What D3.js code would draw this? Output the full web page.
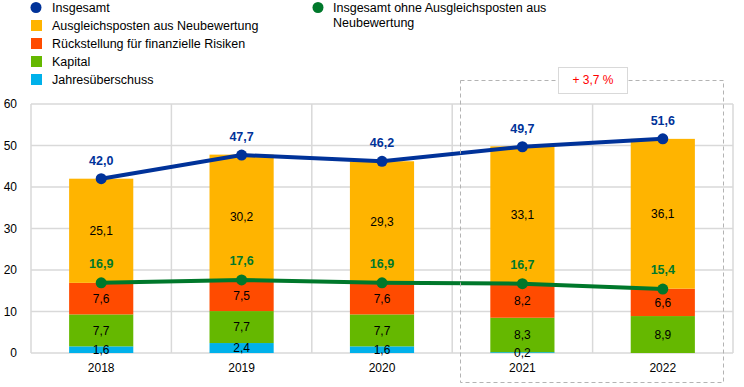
<!DOCTYPE html>
<html>
<head>
<meta charset="utf-8">
<script src="https://cdn.jsdelivr.net/npm/d3@7"></script>
<style>
  body { margin: 0; background: #fff; }
  svg { font-family: "Liberation Sans", Arial, sans-serif; }
</style>
</head>
<body>
<div id="app"></div>
<script>
// data
const years = ["2018", "2019", "2020", "2021", "2022"];
const jahresueberschuss = [1.6, 2.4, 1.6, 0.2, 0];
const kapital = [7.7, 7.7, 7.7, 8.3, 8.9];
const rueckstellung = [7.6, 7.5, 7.6, 8.2, 6.6];
const ausgleichsposten = [25.1, 30.2, 29.3, 33.1, 36.1];
const insgesamt = [42.0, 47.7, 46.2, 49.7, 51.6];
const ohneAusgleich = [16.9, 17.6, 16.9, 16.7, 15.4];
const yTicks = [0, 10, 20, 30, 40, 50, 60];

const seriesNames = ["Jahresüberschuss", "Kapital", "Rückstellung für finanzielle Risiken", "Ausgleichsposten aus Neubewertung"];
const seriesValues = [jahresueberschuss, kapital, rueckstellung, ausgleichsposten];
const colors = ["#00b1ea", "#65b800", "#ff4b00", "#ffb400"];
const blue = "#003299";
const green = "#00782b";

const fmt = v => v.toFixed(1).replace(".", ",");

// sizing
const width = 744, height = 387;
const margin = {left: 31, right: 11, top: 104, bottom: 34};

const svg = d3.select("#app").append("svg")
    .attr("width", width)
    .attr("height", height);

const x = d3.scaleBand()
    .domain(years)
    .range([margin.left, width - margin.right])
    .paddingInner(0)
    .paddingOuter(0);

const y = d3.scaleLinear()
    .domain([0, 60])
    .range([height - margin.bottom, margin.top]);

const barW = x.bandwidth() * 0.457;

// grid
const grid = svg.append("g");
grid.selectAll("line.h")
    .data(yTicks)
    .enter().append("line")
        .attr("x1", margin.left)
        .attr("x2", width - margin.right)
        .attr("y1", d => y(d))
        .attr("y2", d => y(d))
        .attr("stroke", "#d9d9d9")
        .attr("stroke-width", 1.5);
const bounds = years.map(d => x(d)).concat([x(years[years.length - 1]) + x.bandwidth()]);
grid.selectAll("line.v")
    .data(bounds)
    .enter().append("line")
        .attr("x1", d => d)
        .attr("x2", d => d)
        .attr("y1", y(60))
        .attr("y2", y(0))
        .attr("stroke", "#d9d9d9")
        .attr("stroke-width", 1.5);

// y axis labels
svg.append("g")
    .selectAll("text")
    .data(yTicks)
    .enter().append("text")
        .attr("x", 17)
        .attr("y", d => y(d))
        .attr("dy", "0.35em")
        .attr("text-anchor", "end")
        .style("font-size", "12px")
        .text(d => d);

// x axis labels
svg.append("g")
    .selectAll("text")
    .data(years)
    .enter().append("text")
        .attr("x", d => x(d) + x.bandwidth() / 2)
        .attr("y", 372)
        .attr("text-anchor", "middle")
        .style("font-size", "12px")
        .text(d => d);

// stacked bars
const stackRows = years.map((yr, i) => {
    const row = {year: yr};
    seriesNames.forEach((s, j) => row[s] = seriesValues[j][i]);
    return row;
});
const stacked = d3.stack().keys(seriesNames)(stackRows);

stacked.forEach((layer, j) => {
    const g = svg.append("g");
    g.selectAll("rect")
        .data(layer.filter(d => d[1] - d[0] > 0))
        .enter().append("rect")
            .attr("x", d => x(d.data.year) + x.bandwidth() / 2 - barW / 2)
            .attr("y", d => y(d[1]))
            .attr("width", barW)
            .attr("height", d => y(d[0]) - y(d[1]))
            .attr("fill", colors[j]);
});
stacked.forEach((layer, j) => {
    svg.append("g").selectAll("text")
        .data(layer.filter(d => d[1] - d[0] > 0))
        .enter().append("text")
            .attr("x", d => x(d.data.year) + x.bandwidth() / 2)
            .attr("y", d => (y(d[0]) + y(d[1])) / 2)
            .attr("dy", "0.35em")
            .attr("text-anchor", "middle")
            .style("font-size", "12px")
            .text(d => fmt(d[1] - d[0]));
});

// lines
function drawLine(values, color, labelOffset) {
    const pts = years.map((yr, i) => [x(yr) + x.bandwidth() / 2, y(values[i]), values[i]]);
    svg.append("path")
        .attr("d", d3.line()(pts.map(p => [p[0], p[1]])))
        .attr("fill", "none")
        .attr("stroke", color)
        .attr("stroke-width", 4);
    svg.append("g").selectAll("circle")
        .data(pts)
        .enter().append("circle")
            .attr("cx", d => d[0])
            .attr("cy", d => d[1])
            .attr("r", 5.5)
            .attr("fill", color);
    svg.append("g").selectAll("text")
        .data(pts)
        .enter().append("text")
            .attr("x", d => d[0])
            .attr("y", d => d[1] - labelOffset)
            .attr("text-anchor", "middle")
            .style("font-size", "12.5px")
            .style("font-weight", "bold")
            .attr("fill", color)
            .text(d => fmt(d[2]));
}
drawLine(ohneAusgleich, green, 15);
drawLine(insgesamt, blue, 14);

// highlight box
svg.append("rect")
    .attr("x", 460.5)
    .attr("y", 80.5)
    .attr("width", 263)
    .attr("height", 302)
    .attr("fill", "none")
    .attr("stroke", "#b3b3b3")
    .attr("stroke-dasharray", "4,3");
svg.append("rect")
    .attr("x", 558.5)
    .attr("y", 67.5)
    .attr("width", 69)
    .attr("height", 26)
    .attr("fill", "#fff")
    .attr("stroke", "#d9d9d9");
svg.append("text")
    .attr("x", 593)
    .attr("y", 80)
    .attr("dy", "0.35em")
    .attr("text-anchor", "middle")
    .style("font-size", "12px")
    .attr("fill", "#ff0000")
    .text("+ 3,7 %");

// legend
const legendItems = [
    {label: "Insgesamt", color: blue, type: "circle"},
    {label: "Ausgleichsposten aus Neubewertung", color: colors[3], type: "rect"},
    {label: "Rückstellung für finanzielle Risiken", color: colors[2], type: "rect"},
    {label: "Kapital", color: colors[1], type: "rect"},
    {label: "Jahresüberschuss", color: colors[0], type: "rect"}
];
const leg = svg.append("g");
legendItems.forEach((d, i) => {
    const cy = 7.5 + i * 18;
    if (d.type === "circle") {
        leg.append("circle").attr("cx", 36).attr("cy", cy).attr("r", 5.5).attr("fill", d.color);
    } else {
        leg.append("rect").attr("x", 31).attr("y", cy - 5.5).attr("width", 11).attr("height", 11).attr("fill", d.color);
    }
    leg.append("text")
        .attr("x", 52).attr("y", cy).attr("dy", "0.35em")
        .style("font-size", "12.5px")
        .text(d.label);
});
leg.append("circle").attr("cx", 318).attr("cy", 7.5).attr("r", 5.5).attr("fill", green);
leg.append("text").attr("x", 333).attr("y", 7.5).attr("dy", "0.35em")
    .style("font-size", "12.5px").text("Insgesamt ohne Ausgleichsposten aus");
leg.append("text").attr("x", 333).attr("y", 23).attr("dy", "0.35em")
    .style("font-size", "12.5px").text("Neubewertung");
</script>
</body>
</html>
